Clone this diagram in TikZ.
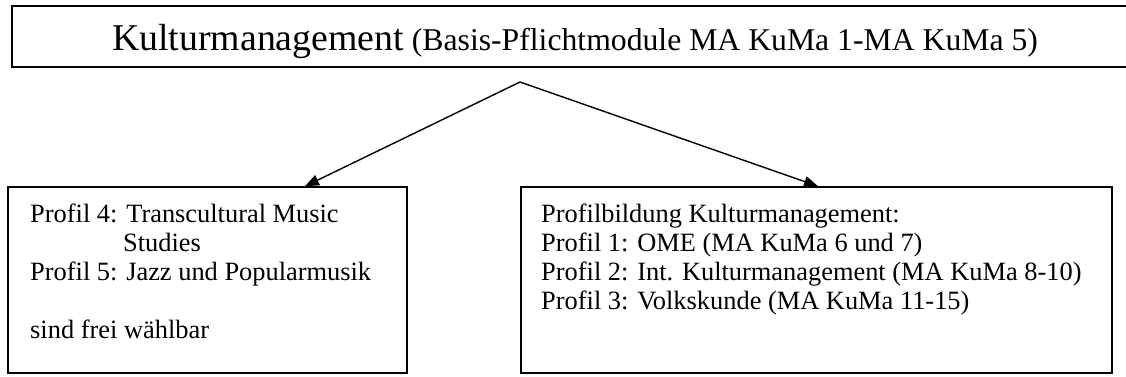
\documentclass[tikz,border=0pt]{standalone}
\usepackage{fontspec}
\setmainfont{Liberation Serif}
\usetikzlibrary{arrows.meta}
\begin{document}
\begin{tikzpicture}[x=1pt,y=-1pt,
  box/.style={draw=black, line width=1.5pt, inner sep=0pt, fill=none},
  txt/.style={anchor=base west, inner sep=0pt, font=\fontsize{26.4}{29}\selectfont},
  arr/.style={line width=1.4pt, -{Triangle[length=14pt,width=11pt]}}]
\useasboundingbox (0,0) rectangle (1126,376);
% top box (extends past right edge)
\node[box, minimum width=1128pt, minimum height=61pt] (top) at (576,36.5) {};
\node[anchor=base west, inner sep=0pt] (title) at (112,50)
  {\fontsize{37.8}{40}\selectfont Kulturmanagement\fontsize{31.7}{34}\selectfont{} (Basis-Pflichtmodule MA KuMa 1-MA KuMa 5)};
% lower boxes
\node[box, minimum width=399pt, minimum height=186pt] (lbox) at (207.5,280) {};
\node[box, minimum width=591pt, minimum height=186pt] (rbox) at (816.5,280) {};
% connectors
\coordinate (apex) at (520,82);
\draw[arr] (apex) -- ([xshift=97.5pt]lbox.north);
\draw[arr] (apex) -- ([xshift=1.5pt]rbox.north);
% left box text
\node[txt] (l1) at (30,222) {Profil 4: Transcultural Music};
\node[txt] (l2) at (123,251) {Studies};
\node[txt] (l3) at (30,280) {Profil 5: Jazz und Popularmusik};
\node[txt] (l4) at (30,338) {sind frei wählbar};
% right box text
\node[txt] (r1) at (541,222) {Profilbildung Kulturmanagement:};
\node[txt] (r2) at (541,251) {Profil 1: OME (MA KuMa 6 und 7)};
\node[txt] (r3) at (541,280) {Profil 2: Int. Kulturmanagement (MA KuMa 8-10)};
\node[txt] (r4) at (541,309) {Profil 3: Volkskunde (MA KuMa 11-15)};
\end{tikzpicture}
\end{document}
